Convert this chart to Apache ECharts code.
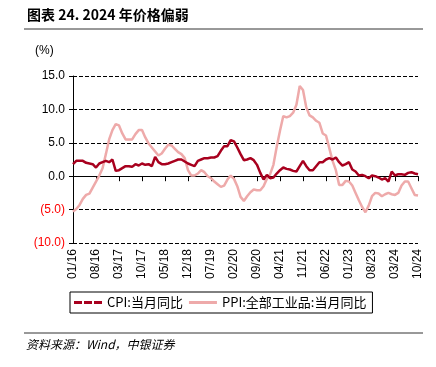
<!DOCTYPE html>
<html>
<head>
<meta charset="utf-8">
<script src="https://cdn.jsdelivr.net/npm/echarts@6/dist/echarts.min.js"></script>
<style>
  body { margin: 0; background: #fff; }
  #chart { width: 436px; height: 367px; }
</style>
</head>
<body>
<div id="chart"></div>
<script>
// 2016-01 ... 2024-10, monthly
var months = [];
for (var y = 2016; y <= 2024; y++) {
    for (var m = 1; m <= 12; m++) {
        if (y === 2024 && m > 10) break;
        months.push((m < 10 ? '0' + m : '' + m) + '/' + String(y).slice(2));
    }
}

var cpi = [
    1.8, 2.3, 2.3, 2.3, 2.0, 1.9, 1.8, 1.3, 1.9, 2.1, 2.3, 2.1,
    2.5, 0.8, 0.9, 1.2, 1.5, 1.5, 1.4, 1.8, 1.6, 1.9, 1.7, 1.8,
    1.5, 2.9, 2.1, 1.8, 1.8, 1.9, 2.1, 2.3, 2.5, 2.5, 2.2, 1.9,
    1.7, 1.5, 2.3, 2.5, 2.7, 2.7, 2.8, 2.8, 3.0, 3.8, 4.5, 4.5,
    5.4, 5.2, 4.3, 3.3, 2.4, 2.5, 2.7, 2.4, 1.7, 0.5, -0.5, 0.2,
    -0.3, -0.2, 0.4, 0.9, 1.3, 1.1, 1.0, 0.8, 0.7, 1.5, 2.3, 1.5,
    0.9, 0.9, 1.5, 2.1, 2.1, 2.5, 2.7, 2.5, 2.8, 2.1, 1.6, 1.8,
    2.1, 1.0, 0.7, 0.1, 0.2, 0.0, -0.3, 0.1, 0.0, -0.2, -0.5, -0.3,
    -0.8, 0.7, 0.1, 0.3, 0.3, 0.2, 0.5, 0.6, 0.4, 0.3
];

var ppi = [
    -5.3, -4.9, -4.3, -3.4, -2.8, -2.6, -1.7, -0.8, 0.1, 1.2, 3.3, 5.5,
    6.9, 7.8, 7.6, 6.4, 5.5, 5.5, 5.5, 6.3, 6.9, 6.9, 5.8, 4.9,
    4.3, 3.7, 3.1, 3.4, 4.1, 4.7, 4.6, 4.1, 3.6, 3.3, 2.7, 0.9,
    0.1, 0.1, 0.4, 0.9, 0.6, 0.0, -0.3, -0.8, -1.2, -1.6, -1.4, -0.5,
    0.1, -0.4, -1.5, -3.1, -3.7, -3.0, -2.4, -2.0, -2.1, -2.1, -1.5, -0.4,
    0.3, 1.7, 4.4, 6.8, 9.0, 8.8, 9.0, 9.5, 10.7, 13.5, 12.9, 10.3,
    9.1, 8.8, 8.3, 8.0, 6.4, 6.1, 4.2, 2.3, 0.9, -1.3, -1.3, -0.7,
    -0.8, -1.4, -2.5, -3.6, -4.6, -5.4, -4.4, -3.0, -2.5, -2.6, -3.0, -2.7,
    -2.5, -2.7, -2.8, -2.5, -1.4, -0.8, -0.8, -1.8, -2.8, -2.9
];

var seriesNames = ['CPI:当月同比', 'PPI:全部工业品:当月同比'];

var myChart = echarts.init(document.getElementById('chart'));
var option = {
    animation: false,
    textStyle: { fontFamily: 'Liberation Sans, Arial, sans-serif' },
    graphic: [
        { type: 'text', left: 27, top: 8,
          style: { text: '图表 24. 2024 年价格偏弱', fontSize: 14, fontWeight: 'bold',
                   fontFamily: 'Noto Sans CJK SC', fill: '#000' } },
        { type: 'line', shape: { x1: 24, y1: 29, x2: 423, y2: 29 },
          style: { stroke: '#333', lineWidth: 1 } },
        { type: 'text', left: 35, top: 45,
          style: { text: '(%)', fontSize: 12, fill: '#000', fontFamily: 'Liberation Sans' } },
        { type: 'line', shape: { x1: 24, y1: 333, x2: 423, y2: 333 },
          style: { stroke: '#333', lineWidth: 1 } },
        { type: 'text', left: 26, top: 338,
          style: { text: '资料来源：Wind，中银证券', fontSize: 12, fontStyle: 'italic',
                   fontFamily: 'Noto Sans CJK SC', fill: '#000' } }
    ],
    legend: {
        left: 70, top: 292,
        padding: [4, 6, 4, 4],
        borderColor: '#000', borderWidth: 1,
        itemWidth: 28, itemHeight: 3, itemGap: 6,
        textStyle: { fontSize: 13, fontFamily: 'Noto Sans CJK SC', color: '#000' },
        data: [
            { name: seriesNames[0], icon: 'path://M0,0h8v3h-8z M10,0h8v3h-8z M20,0h8v3h-8z' },
            { name: seriesNames[1], icon: 'path://M0,0h28v3h-28z' }
        ]
    },
    grid: { left: 73, right: 18, top: 76, bottom: 124 },
    xAxis: [
        {
            type: 'category',
            data: months,
            boundaryGap: false,
            axisLine: { show: false, onZero: false },
            axisTick: { show: false },
            axisLabel: { interval: 6, rotate: 90, fontSize: 12, color: '#000', margin: 6 }
        },
        {
            type: 'category',
            data: months,
            position: 'top',
            boundaryGap: false,
            axisLine: { onZero: true, lineStyle: { color: '#000', width: 1 } },
            axisTick: { interval: 6, inside: true, length: 5, lineStyle: { color: '#000' } },
            axisLabel: { show: false }
        }
    ],
    yAxis: {
        type: 'value',
        min: -10, max: 15, interval: 5,
        axisLine: { show: true, lineStyle: { color: '#000', width: 1 } },
        axisTick: { show: true, length: 4, lineStyle: { color: '#000' } },
        axisLabel: {
            fontSize: 12, margin: 8,
            formatter: function (v) {
                return v < 0 ? '(' + Math.abs(v).toFixed(1) + ')' : v.toFixed(1);
            },
            color: function (v) { return v < 0 ? '#FF0000' : '#000'; }
        },
        splitLine: { lineStyle: { color: '#000', type: [4, 2], width: 1 } }
    },
    series: [
        {
            name: seriesNames[0],
            type: 'line',
            data: cpi,
            symbol: 'none',
            z: 3,
            lineStyle: { color: '#A8001E', width: 2.5 },
            itemStyle: { color: '#A8001E' }
        },
        {
            name: seriesNames[1],
            type: 'line',
            data: ppi,
            symbol: 'none',
            z: 2,
            lineStyle: { color: '#EEAAAA', width: 2.5 },
            itemStyle: { color: '#EEAAAA' }
        }
    ]
};
myChart.setOption(option);
window.addEventListener('resize', function () {
    myChart.resize();
});
</script>
</body>
</html>
